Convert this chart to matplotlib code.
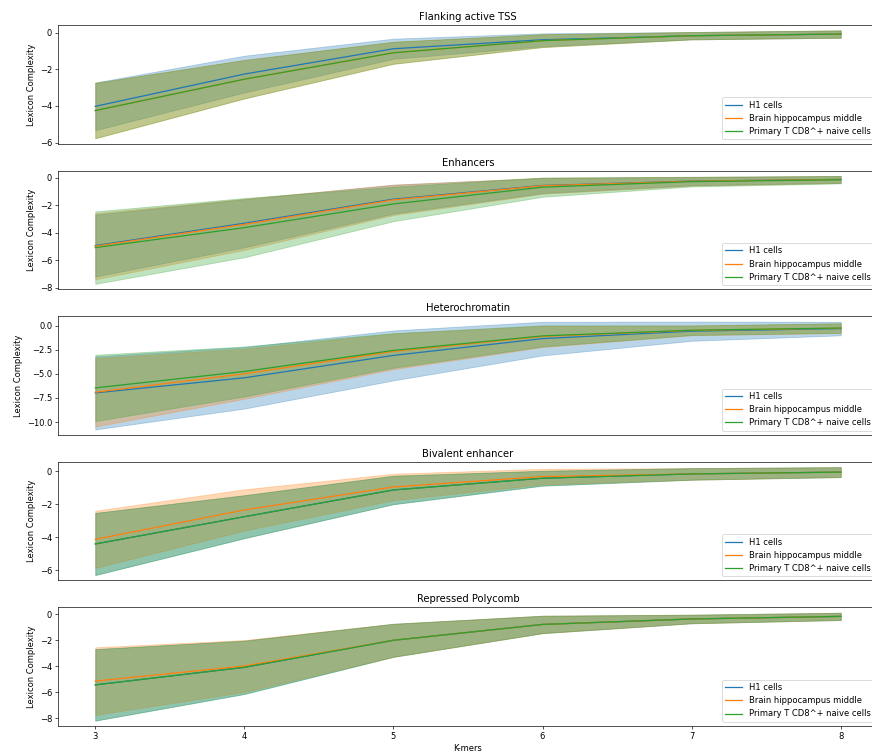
import numpy as np
import matplotlib
matplotlib.use("Agg")
import matplotlib.pyplot as plt
from matplotlib.ticker import MultipleLocator

kmers = [3, 4, 5, 6, 7, 8]
cells = ["H1 cells", "Brain hippocampus middle", "Primary T CD8^+ naive cells"]
titles = ["Flanking active TSS", "Enhancers", "Heterochromatin",
          "Bivalent enhancer", "Repressed Polycomb"]
ytick_step = [2, 2, 2.5, 2, 2]

# mean lexicon complexity, one list per cell type (H1, brain, T cell)
tss_mean = [[-4.02, -2.26, -0.88, -0.39, -0.17, -0.08],
            [-4.25, -2.54, -1.10, -0.44, -0.17, -0.08],
            [-4.25, -2.54, -1.10, -0.44, -0.17, -0.08]]
tss_sd = [[1.30, 1.00, 0.55, 0.35, 0.20, 0.20],
          [1.51, 1.05, 0.60, 0.35, 0.20, 0.20],
          [1.51, 1.05, 0.60, 0.35, 0.20, 0.20]]

enh_mean = [[-4.92, -3.30, -1.55, -0.56, -0.24, -0.12],
            [-4.97, -3.38, -1.60, -0.58, -0.25, -0.12],
            [-5.07, -3.62, -1.90, -0.68, -0.28, -0.14]]
enh_sd = [[2.25, 1.75, 1.05, 0.55, 0.30, 0.25],
          [2.40, 1.85, 1.10, 0.58, 0.32, 0.25],
          [2.63, 2.15, 1.25, 0.70, 0.35, 0.27]]

het_mean = [[-6.97, -5.40, -3.07, -1.32, -0.55, -0.28],
            [-6.90, -4.98, -2.65, -1.10, -0.47, -0.24],
            [-6.45, -4.74, -2.55, -1.04, -0.45, -0.22]]
het_sd = [[3.80, 3.20, 2.60, 1.75, 1.00, 0.70],
          [3.56, 2.60, 1.85, 1.10, 0.50, 0.50],
          [3.45, 2.60, 1.80, 1.10, 0.50, 0.50]]

biv_mean = [[-4.41, -2.76, -1.14, -0.43, -0.17, -0.06],
            [-4.13, -2.35, -0.96, -0.33, -0.17, -0.06],
            [-4.41, -2.76, -1.14, -0.43, -0.17, -0.06]]
biv_sd = [[1.88, 1.30, 0.86, 0.45, 0.35, 0.30],
          [1.73, 1.25, 0.80, 0.47, 0.35, 0.30],
          [1.88, 1.30, 0.86, 0.45, 0.35, 0.30]]

pc_mean = [[-5.43, -4.08, -2.00, -0.78, -0.36, -0.16],
           [-5.14, -3.98, -2.00, -0.78, -0.36, -0.16],
           [-5.43, -4.08, -2.00, -0.78, -0.36, -0.16]]
pc_sd = [[2.75, 2.05, 1.27, 0.67, 0.33, 0.28],
         [2.60, 2.00, 1.27, 0.67, 0.33, 0.28],
         [2.75, 2.05, 1.27, 0.67, 0.33, 0.28]]

means = [tss_mean, enh_mean, het_mean, biv_mean, pc_mean]
sds = [tss_sd, enh_sd, het_sd, biv_sd, pc_sd]
colors = ["#1f77b4", "#ff7f0e", "#2ca02c"]

dpi = 60
fig, axes = plt.subplots(5, 1, figsize=(872 / dpi, 755 / dpi), dpi=dpi, sharex=True)
fig.subplots_adjust(left=58 / 872, right=878 / 872, top=1 - 25 / 755,
                    bottom=1 - 726 / 755, hspace=0.227)

x = np.array(kmers)
for ax, title, m_list, s_list, step in zip(axes, titles, means, sds, ytick_step):
    for name, c, m, s in zip(cells, colors, m_list, s_list):
        m = np.array(m)
        s = np.array(s)
        ax.plot(x, m, color=c, label=name)
        ax.fill_between(x, m - s, m + s, color=c, alpha=0.3)
    ax.set_title(title)
    ax.set_ylabel("Lexicon Complexity")
    ax.yaxis.set_major_locator(MultipleLocator(step))
    ax.legend(loc="lower right")
    ax.tick_params(axis="x", bottom=False)

axes[-1].tick_params(axis="x", bottom=True)
axes[-1].set_xticks(kmers)
axes[-1].set_xlabel("K-mers")

fig.savefig("out.png", dpi=dpi)
